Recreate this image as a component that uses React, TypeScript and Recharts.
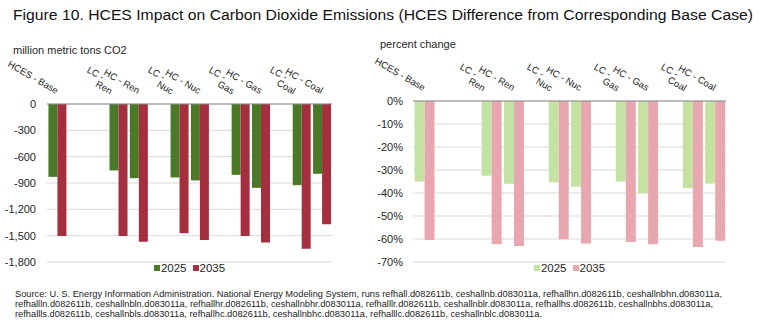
import React from "react";
import { BarChart, Bar, XAxis, YAxis, CartesianGrid, Legend } from "recharts";

// categories (blank slots are the gaps between scenario groups)
const categories = [
  "HCES - Base", "", "",
  "LC - Ren", "HC - Ren", "",
  "LC - Nuc", "HC - Nuc", "",
  "LC - Gas", "HC - Gas", "",
  "LC - Coal", "HC - Coal",
];

// million metric tons CO2
const tons2025 = [-830, null, null, -757, -845, null, -837, -871, null, -807, -955, null, -925, -795];
const tons2035 = [-1505, null, null, -1505, -1568, null, -1473, -1549, null, -1505, -1579, null, -1648, -1370];

// percent change
const pct2025 = [-35.0, null, null, -32.5, -36.0, null, -35.4, -37.3, null, -35.0, -40.1, null, -37.9, -35.9];
const pct2035 = [-60.4, null, null, -62.3, -63.0, null, -60.1, -62.0, null, -61.3, -62.3, null, -63.5, -60.8];

const tonsTicks = [0, -300, -600, -900, -1200, -1500, -1800];
const pctTicks = [0, -10, -20, -30, -40, -50, -60, -70];
const years = ["2025", "2035"];

const TITLE =
  "Figure 10. HCES Impact on Carbon Dioxide Emissions (HCES Difference from Corresponding Base Case)";
const SOURCE_LINES = [
  "Source:  U. S. Energy Information Administration.  National Energy Modeling System, runs refhall.d082611b, ceshallnb.d083011a, refhallhn.d082611b, ceshallnbhn.d083011a,",
  "refhallln.d082611b, ceshallnbln.d083011a, refhallhr.d082611b, ceshallnbhr.d083011a, refhalllr.d082611b, ceshallnblr.d083011a, refhallhs.d082611b, ceshallnbhs.d083011a,",
  "refhallls.d082611b, ceshallnbls.d083011a, refhallhc.d082611b, ceshallnbhc.d083011a, refhalllc.d082611b, ceshallnblc.d083011a.",
];

const FONT = "'Liberation Sans', Arial, sans-serif";
const NARROW = "'Liberation Sans Narrow', 'Arial Narrow', 'Liberation Sans', Arial, sans-serif";
const TEXT = "#262626";

const tonsData = categories.map((_, i) => ({ idx: i, y2025: tons2025[i], y2035: tons2035[i] }));
const pctData = categories.map((_, i) => ({ idx: i, y2025: pct2025[i], y2035: pct2035[i] }));

function CatTick(props: any) {
  const { x, payload, baseY } = props;
  const label = categories[payload.value];
  if (!label) return null;
  const parts = label.split(" - ");
  const wrap = label.startsWith("LC");
  return (
    <g transform={`translate(${x},${baseY}) rotate(30)`} fontFamily={FONT} fontSize={9.5} fill={TEXT}>
      {wrap ? (
        <>
          <text x={-22} y={-5} textAnchor="end">{parts[0] + " -"}</text>
          <text x={-8} y={3} textAnchor="end">{parts[1]}</text>
        </>
      ) : (
        <text x={-2} y={-1} textAnchor="end">{label}</text>
      )}
    </g>
  );
}

function LegendBox({ colors }: { colors: string[] }) {
  return (
    <div style={{ display: "flex", justifyContent: "center", gap: 6, fontFamily: FONT, fontSize: 11.5, color: TEXT, lineHeight: "12px" }}>
      {years.map((y, i) => (
        <span key={y} style={{ display: "flex", alignItems: "center" }}>
          <span style={{ width: 6, height: 6, background: colors[i], display: "inline-block", marginRight: 1 }} />
          {y}
        </span>
      ))}
    </div>
  );
}

function Panel(props: {
  data: any[];
  width: number;
  top: number;
  yWidth: number;
  right: number;
  domain: [number, number];
  ticks: number[];
  fmt: (v: number) => string;
  colors: string[];
  tickMargin: number;
}) {
  const { data, width, top, yWidth, right, domain, ticks, fmt, colors, tickMargin } = props;
  return (
    <BarChart
      width={width}
      height={290}
      data={data}
      margin={{ top: 0, right, bottom: 28, left: 0 }}
      barCategoryGap="7%"
      barGap={0}
    >
      <CartesianGrid vertical={false} stroke="#D9D9D9" />
      <XAxis
        dataKey="idx"
        type="category"
        orientation="top"
        height={top}
        interval={0}
        tickLine={false}
        axisLine={{ stroke: "#8C8C8C" }}
        tick={(p: any) => <CatTick {...p} baseY={top - 8} />}
      />
      <YAxis
        width={yWidth}
        domain={domain}
        ticks={ticks}
        interval={0}
        axisLine={false}
        tickLine={false}
        tickMargin={tickMargin}
        tickFormatter={fmt}
        tick={{ fontSize: 11, fill: TEXT, fontFamily: FONT }}
      />
      <Legend
        verticalAlign="middle"
        wrapperStyle={{ top: 262, left: yWidth, width: width - yWidth - right }}
        content={() => <LegendBox colors={colors} />}
      />
      <Bar dataKey="y2025" name="2025" fill={colors[0]} isAnimationActive={false} />
      <Bar dataKey="y2035" name="2035" fill={colors[1]} isAnimationActive={false} />
    </BarChart>
  );
}

export default function App() {
  return (
    <div style={{ position: "absolute", left: 0, top: 0, width: 766, height: 331, background: "#fff", overflow: "hidden" }}>
      <div style={{ position: "absolute", left: 0, top: 0 }}>
        <Panel
          data={tonsData}
          width={350}
          top={104}
          yWidth={47}
          right={18}
          domain={[-1800, 0]}
          ticks={tonsTicks}
          fmt={(v) => v.toLocaleString("en-US")}
          colors={["#4A7A28", "#A52F3F"]}
          tickMargin={5}
        />
      </div>
      <div style={{ position: "absolute", left: 350, top: 0 }}>
        <Panel
          data={pctData}
          width={416}
          top={101}
          yWidth={63}
          right={40}
          domain={[-70, 0]}
          ticks={pctTicks}
          fmt={(v) => `${v}%`}
          colors={["#C4E3A2", "#E8A6AE"]}
          tickMargin={4}
        />
      </div>
      <svg width={766} height={30} style={{ position: "absolute", left: 0, top: 0 }}>
        <text x={13} y={19.5} fontFamily={FONT} fontSize={15.5} fill="#111" textLength={740} lengthAdjust="spacingAndGlyphs">
          {TITLE}
        </text>
      </svg>
      <div style={{ position: "absolute", left: 13, top: 44, fontFamily: FONT, fontSize: 11, color: TEXT, lineHeight: "13px" }}>
        million metric tons CO2
      </div>
      <div style={{ position: "absolute", left: 380, top: 38, fontFamily: FONT, fontSize: 11, color: TEXT, lineHeight: "13px" }}>
        percent change
      </div>
      <svg width={766} height={45} style={{ position: "absolute", left: 0, top: 286 }}>
        {SOURCE_LINES.map((line, i) => (
          <text
            key={i}
            x={15}
            y={10.5 + i * 10}
            fontFamily={NARROW}
            fontSize={9.5}
            fill="#222"
            textLength={[707, 698, 527][i]}
            lengthAdjust="spacingAndGlyphs"
          >
            {line}
          </text>
        ))}
      </svg>
    </div>
  );
}
